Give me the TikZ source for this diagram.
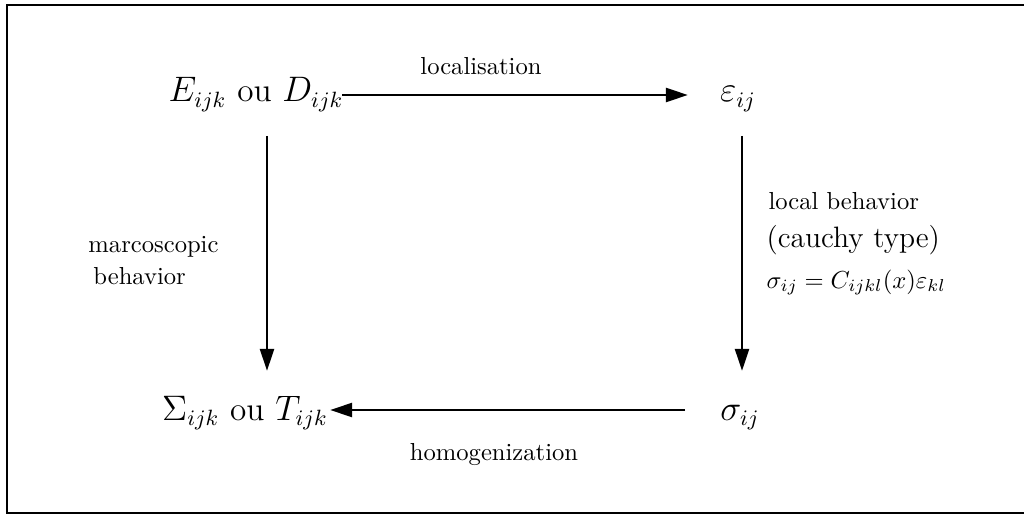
\documentclass[tikz,border=0pt]{standalone}
\usetikzlibrary{arrows.meta}
\begin{document}
\begin{tikzpicture}[x=0.4065pt,y=-0.4065pt,
  lbl/.style={inner sep=0pt,anchor=base,font=\fontsize{10}{12}\selectfont},
  big/.style={inner sep=0pt,anchor=base,font=\fontsize{13.5}{16}\selectfont},
  mid/.style={inner sep=0pt,anchor=base,font=\fontsize{12}{14}\selectfont},
  arr/.style={line width=1.2pt,-{Triangle[length=9pt,width=5.6pt]}},
  frame/.style={line width=0.8pt}]
\useasboundingbox (0,0) rectangle (1024,515);
\draw[frame] (1040,5) -- (7,5) -- (7,513) -- (1040,513);
\node[big] (E) at (256,102) {$E_{ijk}$ ou $D_{ijk}$};
\node[big] (eps) at (738,102) {$\varepsilon_{ij}$};
\node[big] (S) at (245,420) {$\Sigma_{ijk}$ ou $T_{ijk}$};
\node[big] (sig) at (740,420) {$\sigma_{ij}$};
\node[lbl] (loc) at (481,75) {localisation};
\node[lbl] (hom) at (494,460) {homogenization};
\node[lbl,anchor=base west] (mac1) at (88,252) {marcoscopic};
\node[lbl,anchor=base west] (mac2) at (93,284) {behavior};
\node[lbl,anchor=base west] (lb) at (768,209) {local behavior};
\node[mid,anchor=base west] (ct) at (766,247) {(cauchy type)};
\node[lbl,anchor=base west] (law) at (766,288) {$\sigma_{ij}=C_{ijkl}(x)\varepsilon_{kl}$};
\coordinate (t1) at (342,95);
\coordinate (t2) at (688,95);
\coordinate (l1) at (267,136);
\coordinate (l2) at (267,371);
\coordinate (r1) at (742,136);
\coordinate (r2) at (742,371);
\coordinate (b1) at (685,410);
\coordinate (b2) at (330,410);
\draw[arr] (t1) -- (t2);
\draw[arr] (l1) -- (l2);
\draw[arr] (r1) -- (r2);
\draw[arr] (b1) -- (b2);
\end{tikzpicture}
\end{document}
